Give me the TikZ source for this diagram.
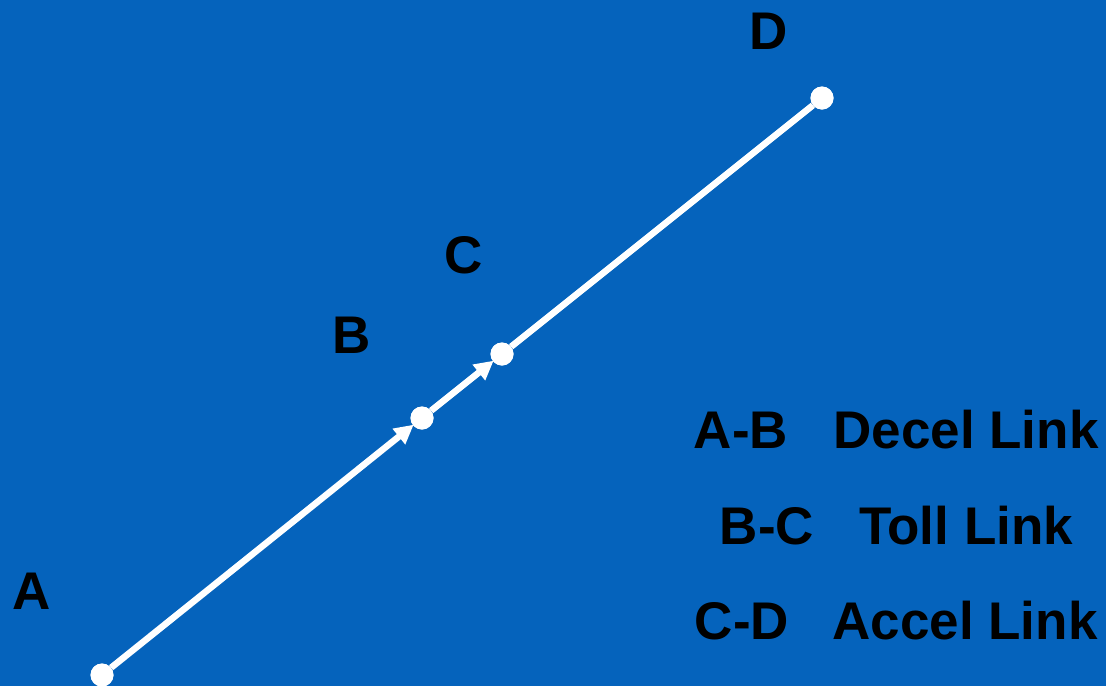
\documentclass[tikz,border=0pt]{standalone}
\usepackage{fontspec}
\setmainfont{Liberation Sans}
\usetikzlibrary{arrows.meta}
\definecolor{bgblue}{RGB}{5,99,188}
\begin{document}
\begin{tikzpicture}[x=1pt,y=-1pt,
  dot/.style={circle,fill=white,minimum size=23pt,inner sep=0pt},
  lbl/.style={font=\bfseries\fontsize{53}{60}\selectfont,text=black,inner sep=0pt,anchor=base},
  link/.style={draw=white,line width=6.5pt},
  arr/.style={link,-{Triangle[length=19pt,width=19pt]},shorten >=-1pt}]
\fill[bgblue] (0,0) rectangle (1106,686);
\useasboundingbox (0,0) rectangle (1106,686);
\node[dot] (A) at (102,675) {};
\node[dot] (B) at (422,418) {};
\node[dot] (C) at (502,354) {};
\node[dot] (D) at (822,98) {};
\draw[arr] (A) -- (B);
\draw[arr] (B) -- (C);
\draw[link] (C) -- (D);
\node[dot] at (A) {};
\node[dot] at (B) {};
\node[dot] at (C) {};
\node[dot] at (D) {};
\node[lbl] (lA) at (32,609) {A};
\node[lbl] (lB) at (352,353) {B};
\node[lbl] (lC) at (464,273) {C};
\node[lbl] (lD) at (769,49) {D};
\node[lbl] (k1) at (741,448) {A-B};
\node[lbl] (v1) at (966,448) {Decel Link};
\node[lbl] (k2) at (767,544) {B-C};
\node[lbl] (v2) at (966,544) {Toll Link};
\node[lbl] (k3) at (742,639) {C-D};
\node[lbl] (v3) at (965,639) {Accel Link};
\end{tikzpicture}
\end{document}
